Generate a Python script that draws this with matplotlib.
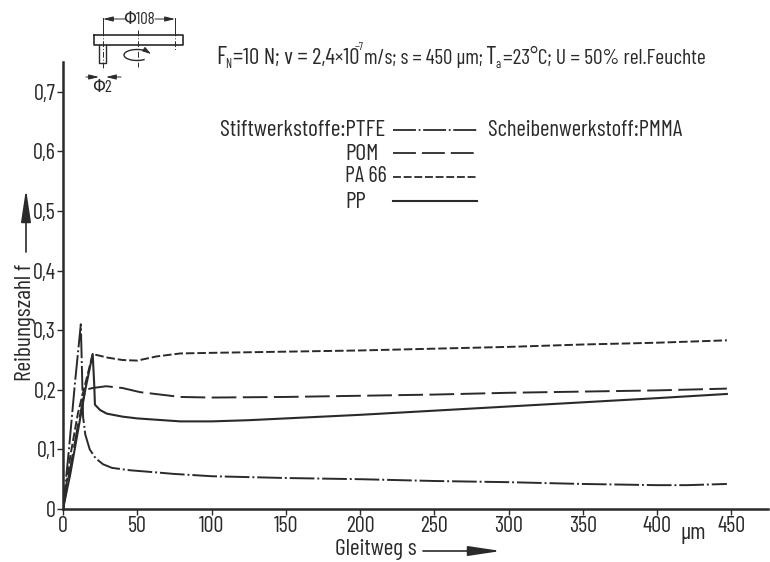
import matplotlib
matplotlib.use("Agg")
import matplotlib.pyplot as plt
from matplotlib.patches import Arc

plt.rcParams['font.family'] = ['Barlow Condensed', 'DejaVu Sans']

ptfe_x = [0, 4, 8, 11, 12, 13, 13.5, 15, 18, 22, 27, 33, 45, 60, 74, 100, 150, 200, 250, 300, 350, 400, 420, 447]
ptfe_y = [0, 0.10, 0.21, 0.285, 0.31, 0.21, 0.155, 0.125, 0.10, 0.085, 0.075, 0.069, 0.065, 0.062, 0.059, 0.055, 0.052, 0.05, 0.047, 0.045, 0.042, 0.04, 0.04, 0.042]
pom_x = [0, 5, 10, 15, 20, 29, 40, 52, 79, 100, 150, 200, 250, 300, 350, 400, 447]
pom_y = [0, 0.07, 0.14, 0.2, 0.203, 0.206, 0.203, 0.196, 0.188, 0.187, 0.188, 0.19, 0.192, 0.195, 0.197, 0.199, 0.202]
pa66_x = [0, 5, 10, 15, 20, 30, 40, 50, 63, 79, 100, 150, 200, 250, 300, 350, 400, 447]
pa66_y = [0, 0.09, 0.16, 0.21, 0.26, 0.254, 0.25, 0.249, 0.256, 0.261, 0.262, 0.264, 0.266, 0.269, 0.272, 0.276, 0.279, 0.283]
pp_x = [0, 5, 10, 15, 20, 21, 21.5, 25, 29.5, 40, 50, 79, 100, 125, 150, 200, 250, 300, 350, 400, 447]
pp_y = [0, 0.06, 0.13, 0.2, 0.26, 0.21, 0.175, 0.166, 0.16, 0.155, 0.152, 0.147, 0.147, 0.149, 0.152, 0.158, 0.165, 0.172, 0.179, 0.186, 0.193]

x_ticks = [0, 50, 100, 150, 200, 250, 300, 350, 400, 450]
x_labels = ['0', '50', '100', '150', '200', '250', '300', '350', '400', '450']
y_ticks = [0, 0.1, 0.2, 0.3, 0.4, 0.5, 0.6, 0.7]
y_labels = ['0', '0,1', '0,2', '0,3', '0,4', '0,5', '0,6', '0,7']

ink = '#2a2a2a'
W, H = 770, 562
fig = plt.figure(figsize=(W / 100, H / 100), dpi=100)

# plot area from the pixel positions of the axes in the scan
ax = fig.add_axes([63 / W, 1 - 509 / H, (768 - 63) / W, (509 - 62) / H])
ax.set_xlim(0, 474.7)
ax.set_ylim(0, 0.75)

dashdot = (0, (12.7, 1.5, 1, 1.5))
dashlong = (0, (12.7, 3.3))
dashshort = (0, (4.4, 1.5))
ax.plot(ptfe_x, ptfe_y, color=ink, lw=1.4, ls=dashdot)
ax.plot(pom_x, pom_y, color=ink, lw=1.4, ls=dashlong)
ax.plot(pa66_x, pa66_y, color=ink, lw=1.4, ls=dashshort)
ax.plot(pp_x, pp_y, color=ink, lw=1.5)

for s in ['top', 'right']:
    ax.spines[s].set_visible(False)
for s in ['left', 'bottom']:
    ax.spines[s].set_linewidth(1.8)
    ax.spines[s].set_color(ink)
ax.set_xticks(x_ticks)
ax.set_xticklabels(x_labels, fontsize=16, color=ink)
ax.set_yticks(y_ticks)
ax.set_yticklabels(y_labels, fontsize=16, color=ink)
ax.tick_params(axis='both', length=4, width=1.0, color=ink, pad=1)

# overlay in pixel coordinates for the annotations and the sketch
ov = fig.add_axes([0, 0, 1, 1])
ov.set_xlim(0, W)
ov.set_ylim(H, 0)
ov.axis('off')
ov.patch.set_alpha(0)


def txt(x, y, s, size=17, **kw):
    ov.text(x, y, s, fontsize=size, color=ink, va='center', **kw)


def arrow(start, end, style='-|>,head_length=1.6,head_width=0.3', lw=1.2):
    ov.annotate('', xy=end, xytext=start,
                arrowprops=dict(arrowstyle=style, color=ink, lw=lw, shrinkA=0, shrinkB=0))


txt(693, 533, 'µm', ha='center')
txt(335, 550, 'Gleitweg s', size=17)
txt(25, 322, 'Reibungszahl f', size=17, rotation=90, ha='center')
arrow((423, 551), (501, 551), '-|>,head_length=2.0,head_width=0.3')
arrow((26, 252), (26, 189), '-|>,head_length=2.0,head_width=0.3')

# conditions line
txt(216, 58, 'F', size=18)
txt(225, 65, 'N', size=9)
txt(233, 58, '=10 N; v = 2,4×10', size=16.5)
txt(355, 47, '−7', size=8)
txt(364, 58, 'm/s; s = 450 µm;', size=15)
txt(485, 58, 'T', size=18)
txt(495, 65, 'a', size=9)
txt(503, 58, '=23°C; U = 50% rel.Feuchte', size=15.5)

# legend
txt(220, 131, 'Stiftwerkstoffe:PTFE', size=17)
txt(345, 155, 'POM', size=17)
txt(345, 177, 'PA 66', size=16)
txt(345, 202, 'PP', size=17)
txt(488, 131, 'Scheibenwerkstoff:PMMA', size=16.5)
ov.plot([393, 477], [130, 130], color=ink, lw=1.3, ls=dashdot)
ov.plot([393, 477], [153, 153], color=ink, lw=1.3, ls=dashlong)
ov.plot([393, 477], [177, 177], color=ink, lw=1.3, ls=dashshort)
ov.plot([393, 477], [201, 201], color=ink, lw=1.5)

# pin on disc sketch
centre = (0, (6, 2, 1, 2))
ov.plot([94, 183, 183, 94, 94], [35, 35, 45, 45, 35], color=ink, lw=1.2)
ov.plot([99, 99, 106, 106], [45, 63, 63, 45], color=ink, lw=1.0)
ov.plot([103, 103], [30, 70], color=ink, lw=0.7, ls=centre)
ov.plot([138, 138], [30, 67], color=ink, lw=0.7, ls=centre)
ov.plot([175, 175], [30, 50], color=ink, lw=0.7, ls=centre)
ov.plot([103, 103], [18, 35], color=ink, lw=0.7)
ov.plot([175, 175], [18, 35], color=ink, lw=0.7)
arrow((126, 19), (103, 19), '-|>,head_length=0.6,head_width=0.15', 0.7)
arrow((155, 19), (175, 19), '-|>,head_length=0.6,head_width=0.15', 0.7)
txt(139, 20, 'Φ108', size=12, ha='center')
arrow((86, 77), (99, 77), '-|>,head_length=0.6,head_width=0.15', 0.7)
arrow((121, 77), (106, 77), '-|>,head_length=0.6,head_width=0.15', 0.7)
txt(102, 88, 'Φ2', size=12, ha='center')
ov.add_patch(Arc((137, 55), 26, 11, theta1=30, theta2=330, color=ink, lw=1.0))
arrow((148, 52), (151, 54), '-|>,head_length=0.5,head_width=0.15', 0.7)

plt.savefig('out.png', dpi=100)
